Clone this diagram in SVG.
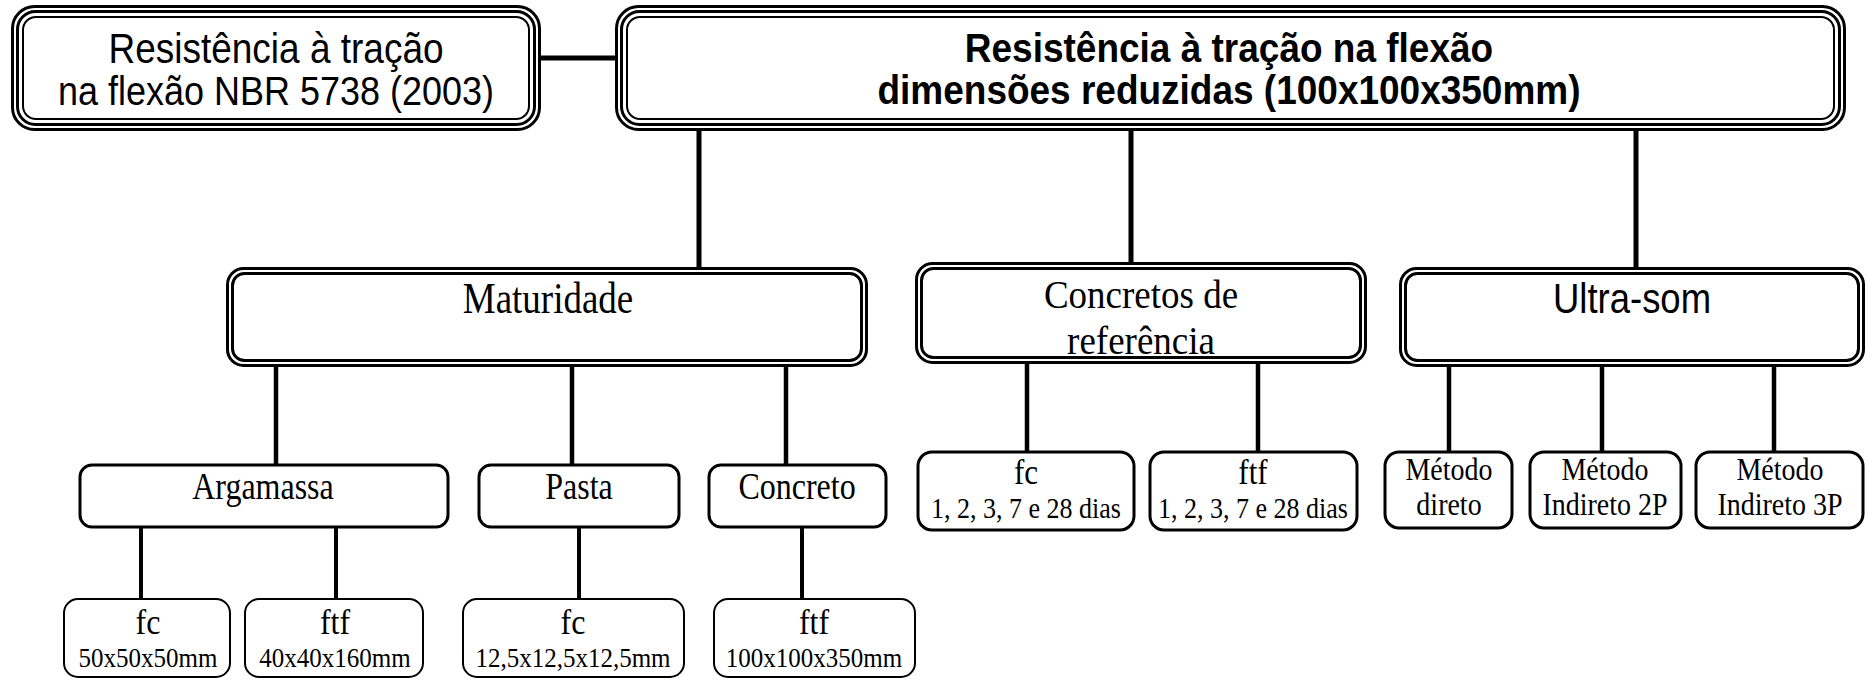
<svg xmlns="http://www.w3.org/2000/svg" width="1868" height="679" viewBox="0 0 1868 679">
<style>
.bg{fill:#fff}
.b{fill:none;stroke:#000}
.t3{stroke-width:3}
.t2{stroke-width:2}
.c{stroke:#000;fill:none}
.sans{font-family:"Liberation Sans",Arial,sans-serif;fill:#000;text-anchor:middle}
.bold{font-weight:bold}
.serif{font-family:"Liberation Serif","Times New Roman",serif;fill:#000;text-anchor:middle}
</style>
<rect class="bg" x="0" y="0" width="1868" height="679"/>
<g id="connectors">
<line class="c" x1="540" y1="58" x2="616" y2="58" stroke-width="5"/>
<line class="c" x1="699" y1="129" x2="699" y2="268" stroke-width="5"/>
<line class="c" x1="1131" y1="129" x2="1131" y2="263" stroke-width="5"/>
<line class="c" x1="1636" y1="129" x2="1636" y2="269" stroke-width="5"/>
<line class="c" x1="276" y1="365" x2="276" y2="465" stroke-width="4.5"/>
<line class="c" x1="572" y1="365" x2="572" y2="465" stroke-width="4.5"/>
<line class="c" x1="786" y1="365" x2="786" y2="465" stroke-width="4.5"/>
<line class="c" x1="1027" y1="363" x2="1027" y2="452" stroke-width="4.5"/>
<line class="c" x1="1258" y1="363" x2="1258" y2="452" stroke-width="4.5"/>
<line class="c" x1="1449" y1="365" x2="1449" y2="452" stroke-width="4.5"/>
<line class="c" x1="1602" y1="365" x2="1602" y2="452" stroke-width="4.5"/>
<line class="c" x1="1774" y1="365" x2="1774" y2="452" stroke-width="4.5"/>
<line class="c" x1="141" y1="527" x2="141" y2="599" stroke-width="4"/>
<line class="c" x1="336" y1="527" x2="336" y2="599" stroke-width="4"/>
<line class="c" x1="579" y1="527" x2="579" y2="599" stroke-width="4"/>
<line class="c" x1="802" y1="527" x2="802" y2="599" stroke-width="4"/>
</g>
<g id="n-nbr">
<rect class="b" x="12.5" y="6.5" width="527" height="123" rx="22" stroke-width="3"/>
<rect class="b" x="17.5" y="11.5" width="517" height="113" rx="18" stroke-width="3"/>
<rect class="b" x="23" y="17" width="506" height="102" rx="13" stroke-width="2"/>
<text class="sans" transform="translate(276 63) scale(1 1.15)" font-size="37">Resistência à tração</text>
<text class="sans" transform="translate(276 105) scale(1 1.15)" font-size="36">na flexão NBR 5738 (2003)</text>
</g>
<g id="n-main">
<rect class="b" x="616.5" y="6.5" width="1228" height="123" rx="22" stroke-width="3"/>
<rect class="b" x="621.5" y="11.5" width="1218" height="113" rx="18" stroke-width="3"/>
<rect class="b" x="627" y="17" width="1207" height="102" rx="13" stroke-width="2"/>
<text class="sans bold" transform="translate(1229 62) scale(1 1.12)" font-size="37">Resistência à tração na flexão</text>
<text class="sans bold" transform="translate(1229 104) scale(1 1.12)" font-size="37">dimensões reduzidas (100x100x350mm)</text>
</g>
<g id="n-maturidade">
<rect class="b" x="227.5" y="268.5" width="639" height="97" rx="16" stroke-width="3"/>
<rect class="b" x="232.5" y="273.5" width="629" height="87" rx="12" stroke-width="3"/>
<text class="serif" transform="translate(548 313) scale(1 1.2)" font-size="37">Maturidade</text>
</g>
<g id="n-concretos">
<rect class="b" x="916.5" y="263.5" width="449" height="99" rx="16" stroke-width="3"/>
<rect class="b" x="921.5" y="268.5" width="439" height="89" rx="12" stroke-width="3"/>
<text class="serif" transform="translate(1141 308) scale(1 1.08)" font-size="37">Concretos de</text>
<text class="serif" transform="translate(1141 354) scale(1 1.08)" font-size="37">referência</text>
</g>
<g id="n-ultrasom">
<rect class="b" x="1400.5" y="268.5" width="463" height="97" rx="16" stroke-width="3"/>
<rect class="b" x="1405.5" y="273.5" width="453" height="87" rx="12" stroke-width="3"/>
<text class="sans" transform="translate(1632 313) scale(1 1.15)" font-size="36.5">Ultra-som</text>
</g>
<g id="n-argamassa">
<rect class="b t3" x="80" y="465" width="368" height="62" rx="12"/>
<text class="serif" transform="translate(263 499) scale(1 1.2)" font-size="32">Argamassa</text>
</g>
<g id="n-pasta">
<rect class="b t3" x="479" y="465" width="200" height="62" rx="12"/>
<text class="serif" transform="translate(579 499) scale(1 1.2)" font-size="32">Pasta</text>
</g>
<g id="n-concreto">
<rect class="b t3" x="709" y="465" width="177" height="62" rx="12"/>
<text class="serif" transform="translate(797 499) scale(1 1.2)" font-size="32">Concreto</text>
</g>
<g id="n-ref-fc">
<rect class="b t3" x="918" y="452" width="216" height="78" rx="14"/>
<text class="serif" transform="translate(1026 484) scale(1 1.15)" font-size="31">fc</text>
<text class="serif" transform="translate(1026 518) scale(1 1.1)" font-size="26">1, 2, 3, 7 e 28 dias</text>
</g>
<g id="n-ref-ftf">
<rect class="b t3" x="1150" y="452" width="207" height="78" rx="14"/>
<text class="serif" transform="translate(1253 484) scale(1 1.15)" font-size="31">ftf</text>
<text class="serif" transform="translate(1253 518) scale(1 1.1)" font-size="26">1, 2, 3, 7 e 28 dias</text>
</g>
<g id="n-direto">
<rect class="b t3" x="1385" y="452" width="127" height="76" rx="14"/>
<text class="serif" transform="translate(1449 480) scale(1 1.1)" font-size="28">Método</text>
<text class="serif" transform="translate(1449 515) scale(1 1.1)" font-size="28">direto</text>
</g>
<g id="n-indireto2p">
<rect class="b t3" x="1530" y="452" width="151" height="76" rx="14"/>
<text class="serif" transform="translate(1605 480) scale(1 1.1)" font-size="28">Método</text>
<text class="serif" transform="translate(1605 515) scale(1 1.1)" font-size="28">Indireto 2P</text>
</g>
<g id="n-indireto3p">
<rect class="b t3" x="1696" y="452" width="167" height="76" rx="14"/>
<text class="serif" transform="translate(1780 480) scale(1 1.1)" font-size="28">Método</text>
<text class="serif" transform="translate(1780 515) scale(1 1.1)" font-size="28">Indireto 3P</text>
</g>
<g id="n-arg-fc">
<rect class="b t2" x="64" y="599" width="166" height="78" rx="14"/>
<text class="serif" transform="translate(148 634) scale(1 1.15)" font-size="32">fc</text>
<text class="serif" transform="translate(148 667) scale(1 1.1)" font-size="25">50x50x50mm</text>
</g>
<g id="n-arg-ftf">
<rect class="b t2" x="245" y="599" width="178" height="78" rx="14"/>
<text class="serif" transform="translate(335 634) scale(1 1.15)" font-size="32">ftf</text>
<text class="serif" transform="translate(335 667) scale(1 1.1)" font-size="25">40x40x160mm</text>
</g>
<g id="n-pasta-fc">
<rect class="b t2" x="463" y="599" width="221" height="78" rx="14"/>
<text class="serif" transform="translate(573 634) scale(1 1.15)" font-size="32">fc</text>
<text class="serif" transform="translate(573 667) scale(1 1.1)" font-size="25">12,5x12,5x12,5mm</text>
</g>
<g id="n-conc-ftf">
<rect class="b t2" x="714" y="599" width="201" height="78" rx="14"/>
<text class="serif" transform="translate(814 634) scale(1 1.15)" font-size="32">ftf</text>
<text class="serif" transform="translate(814 667) scale(1 1.1)" font-size="25">100x100x350mm</text>
</g>
</svg>
